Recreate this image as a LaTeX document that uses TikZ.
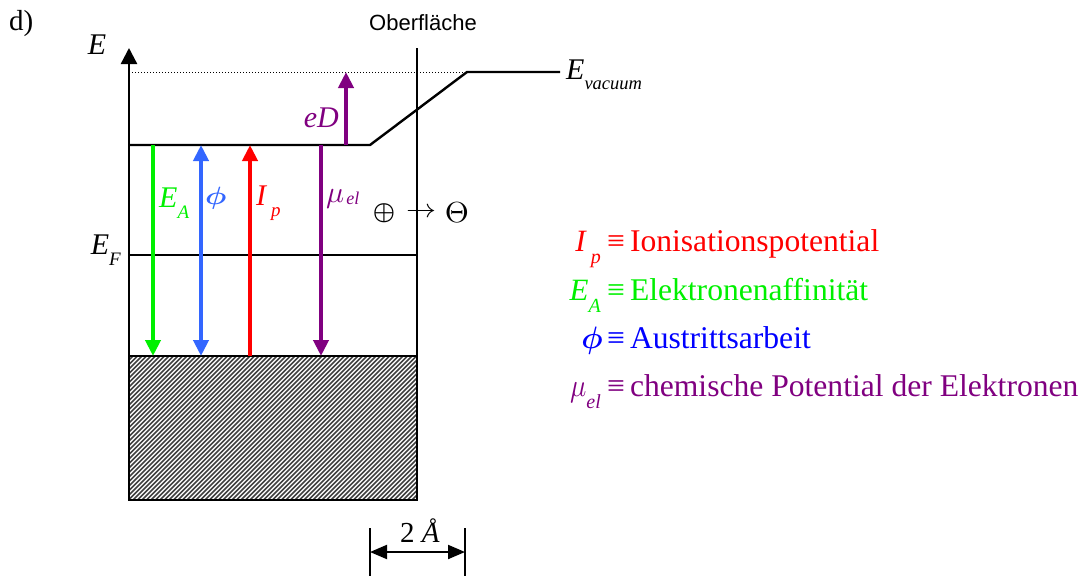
\documentclass[tikz,border=0pt]{standalone}
\usepackage{graphicx}
\usepackage{fontspec}
\setmainfont{Liberation Serif}
\newfontfamily\arialfont{Liberation Sans}
\usetikzlibrary{arrows.meta}
\definecolor{cgreen}{RGB}{0,240,0}
\definecolor{cblue}{RGB}{51,102,255}
\definecolor{lblue}{RGB}{0,0,255}
\definecolor{cred}{RGB}{255,0,0}
\definecolor{cpurple}{RGB}{128,0,128}
\tikzset{
  thick line/.style={line width=2.4pt, black},
  colarrow/.style={line width=4pt, -{Triangle[width=15pt,length=16pt]}},
  colboth/.style={line width=4pt, {Triangle[width=15pt,length=16pt]}-{Triangle[width=15pt,length=16pt]}},
  lab/.style={inner sep=0pt, font=\fontsize{30}{34}\selectfont\itshape},
  legsym/.style={inner sep=0pt, anchor=base east, font=\fontsize{31}{36}\selectfont\itshape},
  legtxt/.style={inner sep=0pt, anchor=base west, font=\fontsize{31.6}{36}\selectfont},
  hatch/.style={line width=1.6pt, black!75},
}
\newcommand{\lsub}[1]{\raisebox{-0.4em}{\fontsize{20}{22}\selectfont #1}}
\newcommand{\ssub}[1]{\raisebox{-0.35em}{\fontsize{19}{21}\selectfont #1}}
\newcommand{\symphi}[2]{\scalebox{#1}[#2]{\normalsize\boldmath$\phi$}}
\newcommand{\symmu}[2]{\scalebox{#1}[#2]{\normalsize$\mu$}}
\begin{document}
\begin{tikzpicture}[x=1pt,y=-1pt]
\useasboundingbox (0,0) rectangle (1090,576);
% coordinates
\coordinate (ax0) at (129,500);
\coordinate (ax1) at (129,48);
\coordinate (surfT) at (417,48);
\coordinate (surfB) at (417,500);
\coordinate (vacL) at (132,72);
\coordinate (vacR) at (467,72);
\coordinate (vacE) at (560,72);
\coordinate (topL) at (129,145);
\coordinate (topK) at (370,145);
\coordinate (efL) at (129,255);
\coordinate (efR) at (417,255);
\coordinate (vbL) at (129,356);
\coordinate (vbR) at (417,356);
% hatch
\begin{scope}
\clip (129,356) rectangle (417,500);
\foreach \i in {-20,-15.5,...,425} \draw[hatch] (\i,500) -- ++(160,-160);
\end{scope}
\draw[thick line] (vbL) rectangle (surfB);
% dotted vacuum
\draw[dotted, line width=1pt] (vacL) -- (vacR);
% axis
\draw[thick line, -{Triangle[width=16pt,length=16pt]}] (ax0) -- (ax1);
% surface line
\draw[thick line] (surfT) -- (surfB);
% levels
\draw[thick line] (topL) -- (topK) -- (vacR) -- (vacE);
\draw[thick line] (efL) -- (efR);
% arrows
\coordinate (gT) at (153,145); \coordinate (gB) at (153,356);
\coordinate (bT) at (201,145); \coordinate (bB) at (201,356);
\coordinate (rT) at (250,145); \coordinate (rB) at (250,356);
\coordinate (pT) at (321,145); \coordinate (pB) at (321,356);
\coordinate (dT) at (346,72); \coordinate (dB) at (346,145);
\draw[colarrow, cgreen] (gT) -- (gB);
\draw[colboth, cblue] (bB) -- (bT);
\draw[colarrow, cred] (rB) -- (rT);
\draw[colarrow, cpurple] (pT) -- (pB);
\draw[colarrow, cpurple] (dB) -- (dT);
% labels
\node[inner sep=0pt, font=\fontsize{29}{34}\selectfont, anchor=west] (d) at (9,24) {d)};
\node[lab] (E) at (97,45) {E};
\node[inner sep=0pt, font=\arialfont\fontsize{22}{26}\selectfont] (ober) at (423,23) {Oberfläche};
\node[lab, anchor=west] (Evac) at (566,75) {E\raisebox{-0.35em}{\fontsize{18.5}{20}\selectfont vacuum}};
\node[lab, anchor=east] (EF) at (121,250) {E\ssub{F}};
\node[lab, cpurple, anchor=east] (eD) at (339,118) {eD};
\node[lab, cgreen, anchor=west] (EA) at (159,203) {E\ssub{A}};
\node[inner sep=0pt, cblue, anchor=west] (phi) at (205,198) {\symphi{3.0}{2.5}};
\node[lab, cred, anchor=west] (Ip) at (256,203) {I\,\ssub{p}};
\node[inner sep=0pt, cpurple, anchor=base west] (mu) at (326,202) {\symmu{3.0}{3.0}\hspace{2pt}\raisebox{-0.2em}{\fontsize{18}{20}\selectfont\itshape el}};
\node[inner sep=0pt] (plus) at (384,213) {\scalebox{2.5}{\boldmath$\oplus$}};
\node[inner sep=0pt] (to) at (421,213) {\scalebox{3.0}[2.6]{$\rightarrow$}};
\node[inner sep=0pt] (minus) at (457,213) {\scalebox{3.1}[2.9]{$\Theta$}};
% legend
\node[legsym, cred] (s1) at (601,251) {I\,\lsub{p}};
\node[legtxt, cred] (l1) at (607,251) {≡\hspace{5pt}Ionisationspotential};
\node[legsym, cgreen] (s2) at (601,300) {E\lsub{A}};
\node[legtxt, cgreen] (l2) at (607,300) {≡\hspace{5pt}Elektronenaffinität};
\node[legsym, lblue] (s3) at (603,348) {\symphi{3.0}{3.1}};
\node[legtxt, lblue] (l3) at (607,348) {≡\hspace{5pt}Austrittsarbeit};
\node[legsym, cpurple] (s4) at (601,396) {\symmu{2.7}{3.2}\lsub{\itshape el}};
\node[legtxt, cpurple] (l4) at (607,396) {≡\hspace{5pt}chemische Potential der Elektronen};
% dimension
\coordinate (m1T) at (370,528); \coordinate (m1B) at (370,576);
\coordinate (m2T) at (465,528); \coordinate (m2B) at (465,576);
\coordinate (a1) at (370,552); \coordinate (a2) at (465,552);
\draw[line width=2pt] (m1T) -- (m1B);
\draw[line width=2pt] (m2T) -- (m2B);
\draw[line width=2pt, {Triangle[width=14pt,length=17pt]}-{Triangle[width=14pt,length=17pt]}] (a1) -- (a2);
\node[inner sep=0pt, font=\fontsize{29}{34}\selectfont] (dim) at (420,531) {2 \textit{Å}};
\end{tikzpicture}
\end{document}
